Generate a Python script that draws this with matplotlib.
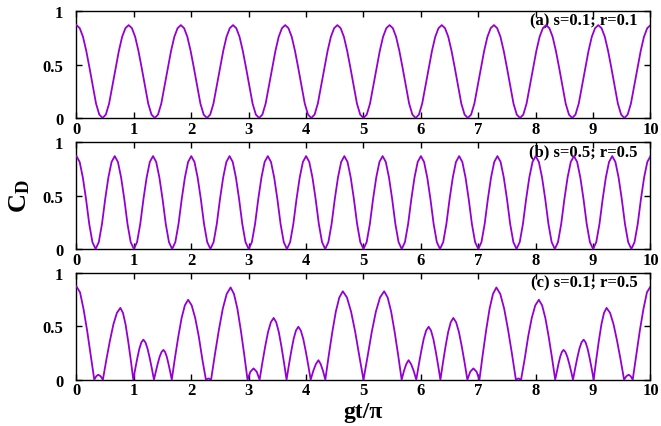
import numpy as np
import matplotlib
matplotlib.use("Agg")
import matplotlib.pyplot as plt

# Times-like bold text everywhere, as in the gnuplot original
plt.rcParams.update({
    "font.family": "Liberation Serif",
    "font.weight": "bold",
    "mathtext.fontset": "custom",
    "mathtext.rm": "Liberation Serif:bold",
    "mathtext.it": "Liberation Serif:bold",
    "mathtext.bf": "Liberation Serif:bold",
})

LINE = "#9400D3"
PANELS = ["(a) s=0.1; r=0.1", "(b) s=0.5; r=0.5", "(c) s=0.1; r=0.5"]
XTICKS = list(range(0, 11))
YTICKS = [0, 0.5, 1]
YTICKLABELS = ["0", "0.5", "1"]

# (a) s=0.1, r=0.1 : regular revivals, 11 periods over gt/pi in [0, 10]
CD_A = [
    0.872, 0.843, 0.762, 0.630, 0.470, 0.300, 0.135, 0.032, 0.0, 0.032, 0.135, 0.300, 0.470, 0.630, 0.762, 0.843,
    0.872, 0.843, 0.762, 0.630, 0.470, 0.300, 0.135, 0.032, 0.0, 0.032, 0.135, 0.300, 0.470, 0.630, 0.762, 0.843,
    0.872, 0.843, 0.762, 0.630, 0.470, 0.300, 0.135, 0.032, 0.0, 0.032, 0.135, 0.300, 0.470, 0.630, 0.762, 0.843,
    0.872, 0.843, 0.762, 0.630, 0.470, 0.300, 0.135, 0.032, 0.0, 0.032, 0.135, 0.300, 0.470, 0.630, 0.762, 0.843,
    0.872, 0.843, 0.762, 0.630, 0.470, 0.300, 0.135, 0.032, 0.0, 0.032, 0.135, 0.300, 0.470, 0.630, 0.762, 0.843,
    0.872, 0.843, 0.762, 0.630, 0.470, 0.300, 0.135, 0.032, 0.0, 0.032, 0.135, 0.300, 0.470, 0.630, 0.762, 0.843,
    0.872, 0.843, 0.762, 0.630, 0.470, 0.300, 0.135, 0.032, 0.0, 0.032, 0.135, 0.300, 0.470, 0.630, 0.762, 0.843,
    0.872, 0.843, 0.762, 0.630, 0.470, 0.300, 0.135, 0.032, 0.0, 0.032, 0.135, 0.300, 0.470, 0.630, 0.762, 0.843,
    0.872, 0.843, 0.762, 0.630, 0.470, 0.300, 0.135, 0.032, 0.0, 0.032, 0.135, 0.300, 0.470, 0.630, 0.762, 0.843,
    0.872, 0.843, 0.762, 0.630, 0.470, 0.300, 0.135, 0.032, 0.0, 0.032, 0.135, 0.300, 0.470, 0.630, 0.762, 0.843,
    0.872, 0.843, 0.762, 0.630, 0.470, 0.300, 0.135, 0.032, 0.0, 0.032, 0.135, 0.300, 0.470, 0.630, 0.762, 0.843,
    0.872,
]
GT_A = np.linspace(0, 10, len(CD_A))

# (b) s=0.5, r=0.5 : regular revivals, 15 periods
CD_B = [
    0.872, 0.817, 0.671, 0.468, 0.235, 0.065, 0.0, 0.065, 0.235, 0.468, 0.671, 0.817,
    0.872, 0.817, 0.671, 0.468, 0.235, 0.065, 0.0, 0.065, 0.235, 0.468, 0.671, 0.817,
    0.872, 0.817, 0.671, 0.468, 0.235, 0.065, 0.0, 0.065, 0.235, 0.468, 0.671, 0.817,
    0.872, 0.817, 0.671, 0.468, 0.235, 0.065, 0.0, 0.065, 0.235, 0.468, 0.671, 0.817,
    0.872, 0.817, 0.671, 0.468, 0.235, 0.065, 0.0, 0.065, 0.235, 0.468, 0.671, 0.817,
    0.872, 0.817, 0.671, 0.468, 0.235, 0.065, 0.0, 0.065, 0.235, 0.468, 0.671, 0.817,
    0.872, 0.817, 0.671, 0.468, 0.235, 0.065, 0.0, 0.065, 0.235, 0.468, 0.671, 0.817,
    0.872, 0.817, 0.671, 0.468, 0.235, 0.065, 0.0, 0.065, 0.235, 0.468, 0.671, 0.817,
    0.872, 0.817, 0.671, 0.468, 0.235, 0.065, 0.0, 0.065, 0.235, 0.468, 0.671, 0.817,
    0.872, 0.817, 0.671, 0.468, 0.235, 0.065, 0.0, 0.065, 0.235, 0.468, 0.671, 0.817,
    0.872, 0.817, 0.671, 0.468, 0.235, 0.065, 0.0, 0.065, 0.235, 0.468, 0.671, 0.817,
    0.872, 0.817, 0.671, 0.468, 0.235, 0.065, 0.0, 0.065, 0.235, 0.468, 0.671, 0.817,
    0.872, 0.817, 0.671, 0.468, 0.235, 0.065, 0.0, 0.065, 0.235, 0.468, 0.671, 0.817,
    0.872, 0.817, 0.671, 0.468, 0.235, 0.065, 0.0, 0.065, 0.235, 0.468, 0.671, 0.817,
    0.872, 0.817, 0.671, 0.468, 0.235, 0.065, 0.0, 0.065, 0.235, 0.468, 0.671, 0.817,
    0.872,
]
GT_B = np.linspace(0, 10, len(CD_B))

# (c) s=0.1, r=0.5 : irregular humps, sampled unevenly (zeros, flanks, maxima)
GT_C = [
    0.0, 0.062, 0.124, 0.186, 0.248, 0.31, 0.345, 0.38, 0.42, 0.46,
    0.521, 0.582, 0.643, 0.704, 0.765, 0.81, 0.855, 0.90, 0.945, 0.99,
    1.025, 1.06, 1.095, 1.13, 1.165, 1.202, 1.239, 1.276, 1.313, 1.35,
    1.383, 1.416, 1.449, 1.482, 1.515, 1.544, 1.573, 1.602, 1.631, 1.66,
    1.717, 1.774, 1.831, 1.888, 1.945, 2.007, 2.069, 2.131, 2.193, 2.255,
    2.30, 2.345,
    2.413, 2.481, 2.549, 2.617, 2.685, 2.744, 2.803, 2.862, 2.921, 2.98,
    3.03, 3.085, 3.14, 3.19,
    3.239, 3.288, 3.337, 3.386, 3.435, 3.48, 3.525, 3.57, 3.615, 3.66,
    3.701, 3.742, 3.783, 3.824, 3.865, 3.908, 3.951, 3.994, 4.037, 4.08,
    4.125, 4.17, 4.215, 4.255, 4.295, 4.335,
    4.396, 4.457, 4.518, 4.579, 4.64, 4.712, 4.784, 4.856, 4.928, 5.0,
    5.072, 5.144, 5.216, 5.288, 5.36, 5.421, 5.482, 5.543, 5.604, 5.665,
    5.705, 5.745, 5.785, 5.83, 5.875, 5.92,
    5.963, 6.006, 6.049, 6.092, 6.135, 6.176, 6.217, 6.258, 6.299, 6.34,
    6.385, 6.43, 6.475, 6.52, 6.565, 6.614, 6.663, 6.712, 6.761, 6.81,
    6.86, 6.915, 6.97, 7.02,
    7.079, 7.138, 7.197, 7.256, 7.315, 7.383, 7.451, 7.519, 7.587, 7.655,
    7.70, 7.745,
    7.807, 7.869, 7.931, 7.993, 8.055, 8.112, 8.169, 8.226, 8.283, 8.34,
    8.369, 8.398, 8.427, 8.456, 8.485, 8.518, 8.551, 8.584, 8.617, 8.65,
    8.687, 8.724, 8.761, 8.798, 8.835, 8.87, 8.905, 8.94, 8.975, 9.01,
    9.055, 9.10, 9.145, 9.19, 9.235, 9.296, 9.357, 9.418, 9.479, 9.54,
    9.58, 9.62, 9.655, 9.69, 9.752, 9.814, 9.876, 9.938, 10.0,
]
CD_C = [
    0.875, 0.82, 0.66, 0.46, 0.23, 0.0, 0.033, 0.047, 0.033, 0.0,
    0.189, 0.364, 0.519, 0.627, 0.674, 0.627, 0.519, 0.364, 0.189, 0.0,
    0.105, 0.203, 0.29, 0.35, 0.376, 0.35, 0.29, 0.203, 0.105, 0.0,
    0.078, 0.151, 0.216, 0.26, 0.28, 0.26, 0.216, 0.151, 0.078, 0.0,
    0.21, 0.405, 0.578, 0.698, 0.75, 0.698, 0.578, 0.405, 0.19, 0.0,
    0.012, 0.0,
    0.242, 0.468, 0.667, 0.805, 0.866, 0.805, 0.667, 0.468, 0.242, 0.0,
    0.075, 0.106, 0.075, 0.0,
    0.162, 0.313, 0.447, 0.539, 0.58, 0.539, 0.447, 0.313, 0.162, 0.0,
    0.139, 0.268, 0.383, 0.462, 0.497, 0.462, 0.383, 0.268, 0.139, 0.0,
    0.082, 0.146, 0.183, 0.146, 0.082, 0.0,
    0.232, 0.448, 0.639, 0.772, 0.83, 0.772, 0.639, 0.448, 0.22, 0.0,
    0.22, 0.448, 0.639, 0.772, 0.83, 0.772, 0.639, 0.448, 0.232, 0.0,
    0.082, 0.146, 0.183, 0.146, 0.082, 0.0,
    0.139, 0.268, 0.383, 0.462, 0.497, 0.462, 0.383, 0.268, 0.139, 0.0,
    0.162, 0.313, 0.447, 0.539, 0.58, 0.539, 0.447, 0.313, 0.162, 0.0,
    0.075, 0.106, 0.075, 0.0,
    0.242, 0.468, 0.667, 0.805, 0.866, 0.805, 0.667, 0.468, 0.242, 0.0,
    0.012, 0.0,
    0.19, 0.405, 0.578, 0.698, 0.75, 0.698, 0.578, 0.405, 0.21, 0.0,
    0.078, 0.151, 0.216, 0.26, 0.28, 0.26, 0.216, 0.151, 0.078, 0.0,
    0.105, 0.203, 0.29, 0.35, 0.376, 0.35, 0.29, 0.203, 0.105, 0.0,
    0.189, 0.364, 0.519, 0.627, 0.674, 0.627, 0.519, 0.364, 0.189, 0.0,
    0.033, 0.047, 0.033, 0.0, 0.23, 0.46, 0.66, 0.82, 0.875,
]

SERIES = [(GT_A, CD_A), (GT_B, CD_B), (GT_C, CD_C)]


def style_axes(ax):
    ax.set_xlim(0, 10)
    ax.set_ylim(0, 1)
    ax.set_xticks(XTICKS)
    ax.set_yticks(YTICKS)
    ax.set_yticklabels(YTICKLABELS)
    ax.tick_params(axis="both", direction="in", top=True, right=True,
                   length=4.5, width=1.0, labelsize=12)
    ax.tick_params(axis="x", pad=2.0)
    ax.tick_params(axis="y", pad=9.5)
    for sp in ax.spines.values():
        sp.set_linewidth(1.0)


fig = plt.figure(figsize=(6.61, 4.27), dpi=100)
left, width, h = 0.1157, 0.8684, 0.2495
bottoms = [0.7213, 0.4145, 0.1084]
for (gt, cd), label, b in zip(SERIES, PANELS, bottoms):
    ax = fig.add_axes([left, b, width, h])
    ax.plot(gt, cd, color=LINE, lw=1.3, zorder=3)
    ax.text(0.977, 0.918, label, transform=ax.transAxes, ha="right", va="center",
            fontsize=12, fontweight="bold", zorder=2)
    style_axes(ax)

fig.text(0.03, 0.54, r"$\mathrm{C}_\mathrm{D}$", rotation=90, ha="center", va="center",
         fontsize=19)
fig.text(0.549, 0.033, "gt/\u03c0", ha="center", va="center", fontsize=17,
         fontweight="bold")

fig.savefig("out.png", dpi=100)
